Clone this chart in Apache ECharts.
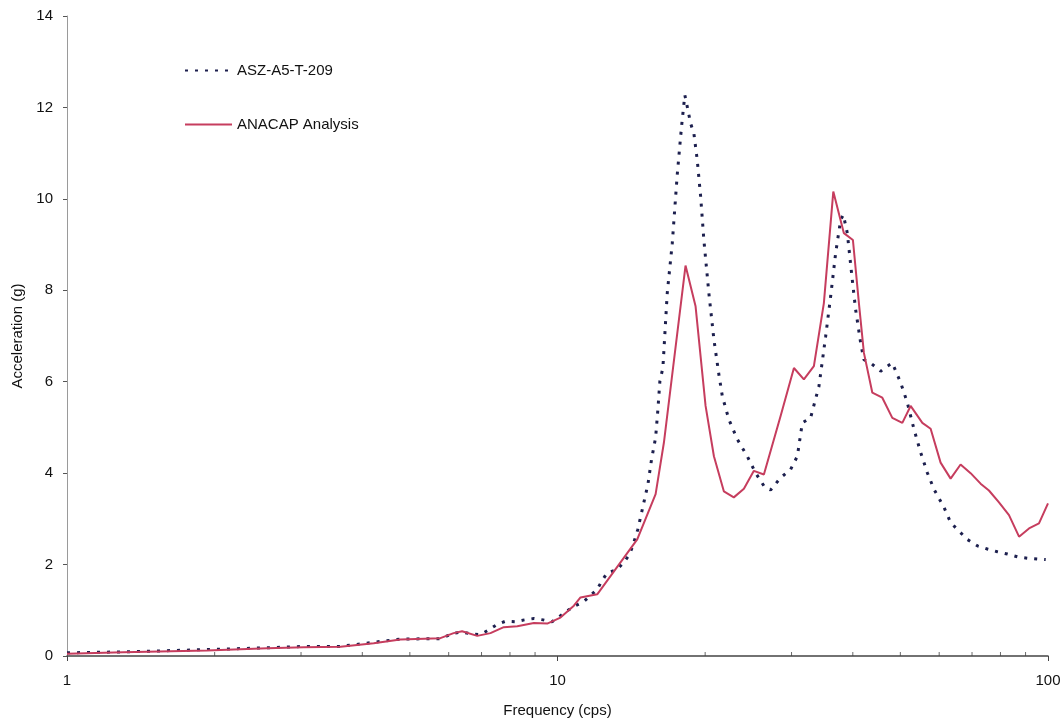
<!DOCTYPE html>
<html>
<head>
<meta charset="utf-8">
<script src="https://cdn.jsdelivr.net/npm/echarts@6/dist/echarts.min.js"></script>
<style>
html,body{margin:0;padding:0;background:#fff;}
#chart{width:1064px;height:723px;}
</style>
</head>
<body>
<div id="chart"></div>
<script>
// Frequency (cps) and acceleration (g) — ASZ-A5-T-209 (dotted)
const freqTest = [1.00,1.30,1.93,2.56,3.04,3.61,4.22,4.78,5.77,6.14,6.39,6.70,6.97,7.24,7.53,7.83,8.21,8.56,8.95,9.35,9.75,10.14,10.47,10.88,11.31,12.05,12.33,12.63,13.20,13.61,13.98,14.21,14.58,15.00,15.29,15.55,15.85,16.02,16.17,16.40,16.74,17.14,17.54,17.90,18.18,18.33,18.68,18.97,19.27,19.57,19.88,20.35,20.84,21.33,21.68,22.36,23.26,24.37,25.33,26.35,27.19,28.50,29.87,30.83,31.56,32.81,34.12,35.21,36.05,36.90,37.78,38.26,38.98,39.90,40.53,41.50,42.14,43.48,45.59,47.04,48.15,50.07,51.67,53.31,55.01,56.75,58.54,61.37,63.31,65.34,68.46,71.78,75.22,78.85,82.64,86.63,90.78,95.15,98.93];
const accTest = [0.07,0.09,0.14,0.18,0.21,0.21,0.30,0.37,0.38,0.50,0.52,0.48,0.47,0.57,0.69,0.76,0.75,0.79,0.82,0.79,0.75,0.88,0.99,1.10,1.19,1.46,1.65,1.82,1.89,2.03,2.20,2.38,2.77,3.36,3.76,4.30,4.78,5.39,6.01,6.30,7.94,9.03,10.52,11.58,12.27,12.09,11.65,11.43,10.85,10.08,9.10,7.94,6.92,6.16,5.68,5.17,4.74,4.37,4.01,3.72,3.63,3.90,4.08,4.37,5.10,5.21,5.90,6.99,7.87,8.81,9.54,9.65,9.25,8.23,7.58,6.85,6.48,6.41,6.23,6.34,6.41,5.98,5.54,4.96,4.45,4.01,3.65,3.25,2.92,2.77,2.55,2.41,2.34,2.28,2.23,2.17,2.14,2.12,2.11];

// ANACAP Analysis (solid)
const freqAna = [1.00,1.30,1.93,2.56,3.04,3.61,4.22,4.78,5.77,6.14,6.39,6.86,7.30,7.77,8.28,8.95,9.53,10.14,10.80,11.14,12.05,14.54,15.85,16.48,18.24,19.12,20.04,20.84,21.84,22.88,23.99,25.14,26.35,28.50,30.34,31.79,33.32,34.92,36.50,38.36,40.02,41.16,42.14,43.84,45.94,48.15,50.47,52.47,55.44,57.64,60.40,63.31,66.34,69.54,72.88,75.79,79.45,83.27,87.29,91.47,95.85,100.0];
const accAna = [0.05,0.08,0.12,0.17,0.19,0.20,0.28,0.36,0.39,0.50,0.54,0.44,0.50,0.63,0.65,0.72,0.71,0.84,1.10,1.28,1.35,2.55,3.54,4.67,8.54,7.65,5.47,4.37,3.60,3.47,3.66,4.05,3.97,5.25,6.30,6.05,6.34,7.72,10.16,9.25,9.10,7.72,6.63,5.76,5.65,5.21,5.10,5.47,5.10,4.97,4.23,3.88,4.19,4.00,3.77,3.62,3.36,3.08,2.61,2.79,2.90,3.34];

// Axis tick values
const yTicks = [0,2,4,6,8,10,12,14];
const minorFreqTicks = [2,3,4,5,6,7,8,9,20,30,40,50,60,70,80,90];

const seriesNames = ['ASZ-A5-T-209','ANACAP Analysis'];

const zip = (xs, ys) => xs.map((x, i) => [x, ys[i]]);

const chart = echarts.init(document.getElementById('chart'), null, {renderer:'canvas'});
const font = 'Liberation Sans, Arial, Helvetica, sans-serif';
chart.setOption({
  backgroundColor:'#ffffff',
  animation:false,
  grid:{left:67,right:16,top:16,bottom:66,containLabel:false},
  legend:{
    data:seriesNames,
    orient:'vertical',
    left:179, top:58,
    itemWidth:47, itemHeight:14,
    itemGap:39,
    itemStyle:{opacity:0},
    textStyle:{fontFamily:font,fontSize:15,color:'#111'},
    selectedMode:false
  },
  xAxis:{
    type:'log', logBase:10, min:1, max:100,
    name:'Frequency (cps)', nameLocation:'middle', nameGap:47,
    nameTextStyle:{fontFamily:font,fontSize:15,color:'#111'},
    axisLine:{show:true,onZero:false,lineStyle:{color:'#444',width:1.5}},
    axisTick:{show:true,length:5,lineStyle:{color:'#444'}},
    axisLabel:{fontFamily:font,fontSize:15,color:'#111',margin:17},
    splitLine:{show:false},
    minorTick:{show:false}
  },
  yAxis:{
    type:'value', min:0, max:14, interval:2,
    name:'Acceleration (g)', nameLocation:'middle', nameGap:38, nameRotate:90,
    nameTextStyle:{fontFamily:font,fontSize:15,color:'#111'},
    axisLine:{show:true,lineStyle:{color:'#9a9a9a',width:1}},
    axisTick:{show:true,length:4,lineStyle:{color:'#555'}},
    axisLabel:{fontFamily:font,fontSize:15,color:'#111',margin:14},
    splitLine:{show:false}
  },
  series:[
    {
      name:seriesNames[0], type:'line', data:zip(freqTest, accTest),
      symbol:'none', smooth:false, z:3,
      color:'#1c1f4e',
      lineStyle:{color:'#1c1f4e',width:3,type:[3,7],cap:'butt'}
    },
    {
      name:seriesNames[1], type:'line', data:zip(freqAna, accAna),
      symbol:'none', smooth:false, z:4,
      color:'#c63d5e',
      lineStyle:{color:'#c63d5e',width:2}
    },
    {
      name:'minorTicks', type:'scatter', data:minorFreqTicks.map(f => [f, 0]),
      symbol:'rect', symbolSize:[1,4], symbolOffset:[0,-2],
      itemStyle:{color:'#444'}, silent:true, clip:false, z:2,
      emphasis:{disabled:true}
    }
  ]
});
</script>
</body>
</html>
